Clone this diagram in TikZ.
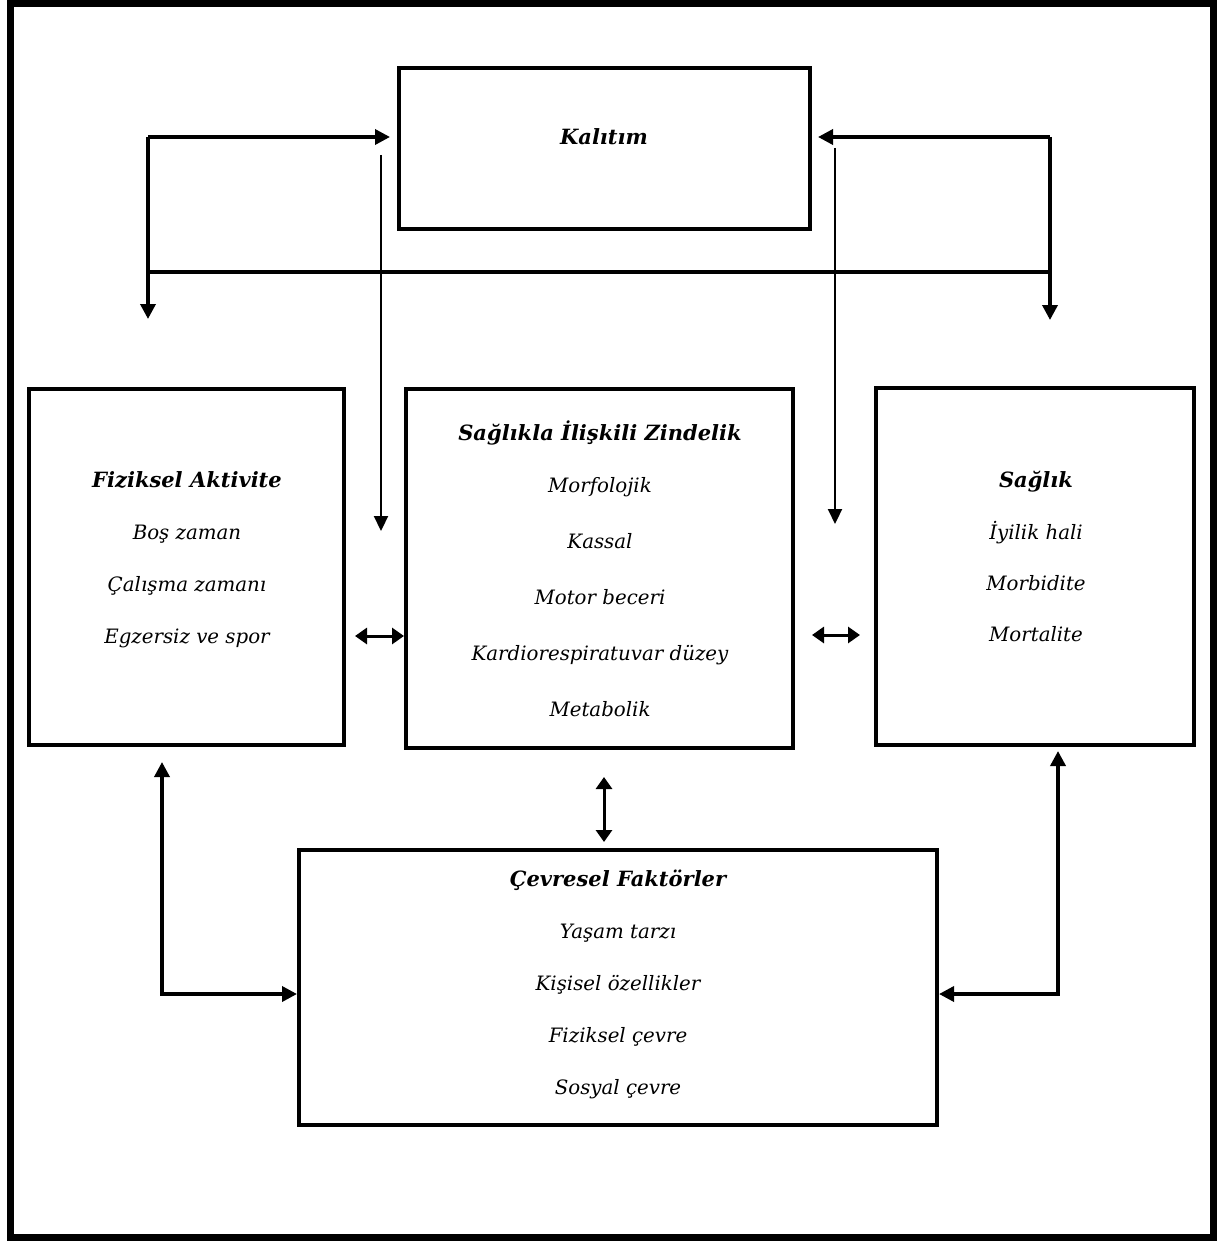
\documentclass[tikz,border=0pt]{standalone}
\usepackage{fontspec}
\setmainfont{DejaVu Serif}
\usetikzlibrary{arrows.meta}
\begin{document}
\begin{tikzpicture}[x=1pt,y=-1pt,
  frame/.style={draw,line width=7pt},
  box/.style={draw,line width=4pt,rectangle,inner sep=0pt},
  title/.style={font=\fontsize{21}{25}\selectfont\bfseries\itshape,inner sep=0pt,anchor=base},
  item/.style={font=\fontsize{19.8}{24}\selectfont\itshape,inner sep=0pt,anchor=base},
  conn/.style={line width=3.5pt,-{Triangle[length=15pt,width=15pt]}},
  thinconn/.style={line width=2.2pt,-{Triangle[length=15pt,width=14pt]}},
  plain/.style={line width=3.5pt},
  dbl/.style={line width=3pt,{Triangle[length=12pt,width=16pt]}-{Triangle[length=12pt,width=16pt]}},
  corner/.style={line width=3.5pt,{Triangle[length=15pt,width=15pt]}-{Triangle[length=15pt,width=15pt]}}
]
\useasboundingbox (0,0) rectangle (1217,1241);
\draw[frame] (10.5,3.5) rectangle (1213.5,1237.5);

% boxes
\node[box,minimum width=411pt,minimum height=161pt] (kal) at (604.5,148.5) {};
\node[box,minimum width=315pt,minimum height=356pt] (fa) at (186.5,567) {};
\node[box,minimum width=387pt,minimum height=359pt] (sz) at (599.5,568.5) {};
\node[box,minimum width=318pt,minimum height=357pt] (sag) at (1035,566.5) {};
\node[box,minimum width=638pt,minimum height=275pt] (cf) at (618,987.5) {};

% texts
\node[title] (kalt) at (604,145) {Kalıtım};

\node[title] (fat) at (187,487) {Fiziksel Aktivite};
\node[item] (fa1) at (187,539) {Boş zaman};
\node[item] (fa2) at (187,591) {Çalışma zamanı};
\node[item] (fa3) at (187,643) {Egzersiz ve spor};

\node[title] (szt) at (600,440) {Sağlıkla İlişkili Zindelik};
\node[item] (sz1) at (600,492) {Morfolojik};
\node[item] (sz2) at (600,548) {Kassal};
\node[item] (sz3) at (600,604) {Motor beceri};
\node[item] (sz4) at (600,660) {Kardiorespiratuvar düzey};
\node[item] (sz5) at (600,716) {Metabolik};

\node[title] (sagt) at (1036,487) {Sağlık};
\node[item] (sag1) at (1036,539) {İyilik hali};
\node[item] (sag2) at (1036,590) {Morbidite};
\node[item] (sag3) at (1036,641) {Mortalite};

\node[title] (cft) at (618,886) {Çevresel Faktörler};
\node[item] (cf1) at (618,938) {Yaşam tarzı};
\node[item] (cf2) at (618,990) {Kişisel özellikler};
\node[item] (cf3) at (618,1042) {Fiziksel çevre};
\node[item] (cf4) at (618,1094) {Sosyal çevre};

% coordinates for connectors
\coordinate (tl) at (148,137);
\coordinate (kalL) at (390,137);
\coordinate (faTop) at (148,319);
\coordinate (tr) at (1050,137);
\coordinate (kalR) at (818,137);
\coordinate (sagTop) at (1050,320);
\coordinate (hl) at (148,272);
\coordinate (hr) at (1050,272);
\coordinate (vl1) at (381,155);
\coordinate (vl2) at (381,531);
\coordinate (vr1) at (835,148);
\coordinate (vr2) at (835,524);
\coordinate (bl) at (162,994);
\coordinate (faBot) at (162,762);
\coordinate (br) at (1058,994);
\coordinate (sagBot) at (1058,751);
\coordinate (vm1) at (604,777);
\coordinate (vm2) at (604,842);

% top loops
\draw[conn] (tl) -- (kalL);
\draw[conn] (tl) -- (faTop);
\draw[conn] (tr) -- (kalR);
\draw[conn] (tr) -- (sagTop);
\draw[plain] (hl) -- (hr);
\draw[thinconn] (vl1) -- (vl2);
\draw[thinconn] (vr1) -- (vr2);

% middle double arrows
\draw[dbl] ([xshift=9pt]fa.east |- 0,636) -- (sz.west |- 0,636);
\draw[dbl] ([xshift=17pt]sz.east |- 0,635) -- ([xshift=-14pt]sag.west |- 0,635);
\draw[dbl] (vm1) -- (vm2);

% bottom corner arrows
\draw[corner] (faBot) -- (bl) -- (cf.west |- bl);
\draw[corner] (sagBot) -- (br) -- (cf.east |- br);
\end{tikzpicture}
\end{document}
